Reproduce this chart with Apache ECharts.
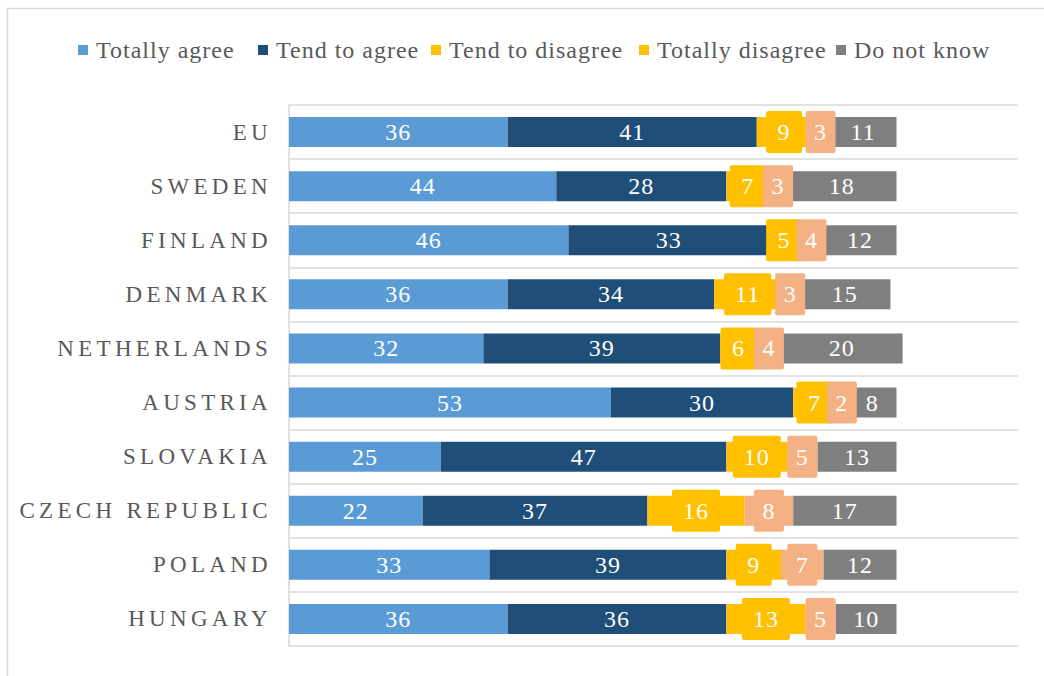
<!DOCTYPE html>
<html>
<head>
<meta charset="utf-8">
<script src="https://cdn.jsdelivr.net/npm/echarts@6/dist/echarts.min.js"></script>
<style>
  html, body { margin: 0; padding: 0; background: #fff; }
  #chart { width: 1044px; height: 676px; }
  /* spaced-out caps for the country names, slightly open tracking elsewhere */
  #chart text[text-anchor="end"] { letter-spacing: 4.3px; }
  #chart text[text-anchor="start"] { letter-spacing: 1px; }
  #chart text[text-anchor="middle"] { letter-spacing: 1px; }
</style>
</head>
<body>
<div id="chart"></div>
<script>
// Survey answers by country (percent)
const categories = ['EU', 'SWEDEN', 'FINLAND', 'DENMARK', 'NETHERLANDS', 'AUSTRIA',
                    'SLOVAKIA', 'CZECH REPUBLIC', 'POLAND', 'HUNGARY'];
const totallyAgree    = [36, 44, 46, 36, 32, 53, 25, 22, 33, 36];
const tendToAgree     = [41, 28, 33, 34, 39, 30, 47, 37, 39, 36];
const tendToDisagree  = [9, 7, 5, 11, 6, 7, 10, 16, 9, 13];
const totallyDisagree = [3, 3, 4, 3, 4, 2, 5, 8, 7, 5];
const doNotKnow       = [11, 18, 12, 15, 20, 8, 13, 17, 12, 10];

const seriesNames = ['Totally agree', 'Tend to agree', 'Tend to disagree', 'Totally disagree', 'Do not know'];

const FONT = '"Liberation Serif", "Times New Roman", serif';
const colors = {
  'Totally agree': '#5B9BD5',
  'Tend to agree': '#1F4E79',
  'Tend to disagree': '#FFC000',
  'Totally disagree': '#F4B183',
  'Do not know': '#7F7F7F'
};
// the legend key for "Totally disagree" uses the yellow swatch
const legendColors = Object.assign({}, colors, { 'Totally disagree': '#FFC000' });
const legendLeft = [78, 258, 431, 639, 836];

function makeSeries(name, values, boxed, pad) {
  const label = {
    show: true,
    position: 'inside',
    color: '#ffffff',
    fontFamily: FONT,
    fontSize: 24
  };
  if (boxed) {
    label.backgroundColor = colors[name];
    label.padding = pad;
    label.borderRadius = 2;
    label.lineHeight = 24;
  }
  return {
    name: name,
    type: 'bar',
    stack: 'total',
    barWidth: 30,
    data: values,
    itemStyle: { color: colors[name] },
    label: label,
    emphasis: { disabled: true }
  };
}

const chart = echarts.init(document.getElementById('chart'), null, { renderer: 'svg' });

chart.setOption({
  animation: false,
  backgroundColor: '#ffffff',
  graphic: [{
    type: 'rect',
    shape: { x: 7.5, y: 8.5, width: 1100, height: 700 },
    style: { fill: 'none', stroke: '#D9D9D9', lineWidth: 1.5 },
    silent: true,
    z: -1
  }],
  legend: seriesNames.map((n, i) => ({
    data: [{ name: n, itemStyle: { color: legendColors[n] } }],
    left: legendLeft[i],
    top: 38,
    padding: 0,
    icon: 'rect',
    itemWidth: 10,
    itemHeight: 10,
    itemGap: 0,
    selectedMode: false,
    textStyle: { fontFamily: FONT, fontSize: 24, color: '#595959', lineHeight: 24, padding: [0, 0, 0, 3] }
  })),
  grid: { left: 289, right: 26, top: 105, bottom: 30 },
  xAxis: {
    type: 'value',
    min: 0,
    max: 120,
    show: false
  },
  yAxis: {
    type: 'category',
    inverse: true,
    data: categories,
    axisTick: { show: false },
    axisLine: { show: true, lineStyle: { color: '#D9D9D9', width: 1.5 } },
    splitLine: { show: true, lineStyle: { color: '#D9D9D9', width: 1.5 } },
    axisLabel: { fontFamily: FONT, fontSize: 23, color: '#595959', margin: 17 }
  },
  series: [
    makeSeries('Totally agree', totallyAgree, false),
    makeSeries('Tend to agree', tendToAgree, false),
    makeSeries('Tend to disagree', tendToDisagree, true, [9, 12]),
    makeSeries('Totally disagree', totallyDisagree, true, [9, 9]),
    makeSeries('Do not know', doNotKnow, false)
  ]
});
</script>
</body>
</html>
